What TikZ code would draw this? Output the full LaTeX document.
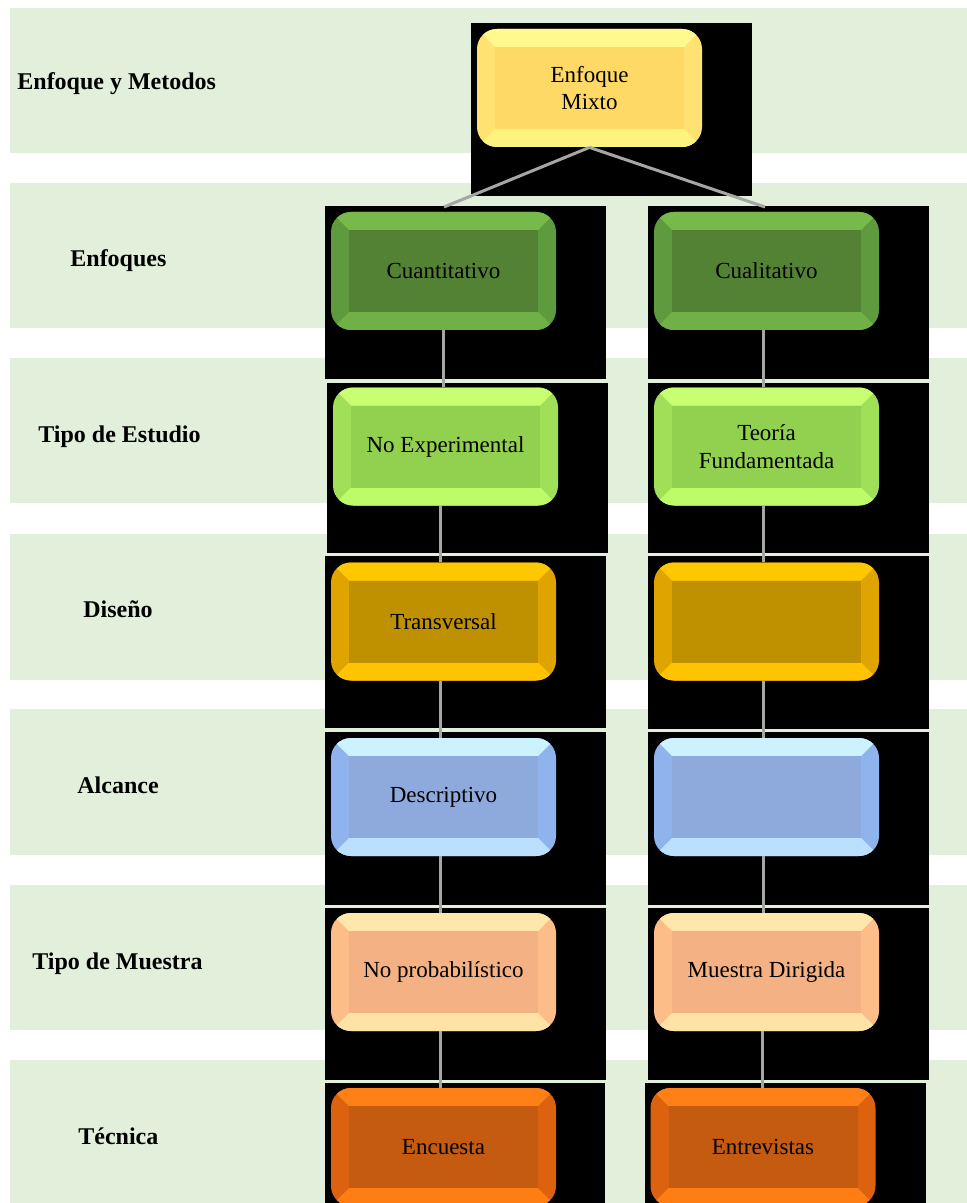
\documentclass[tikz,border=0pt]{standalone}
\usepackage{fontspec}
\setmainfont{Liberation Serif}

% band and connector colours
\definecolor{band}{HTML}{E2EFDA}
\definecolor{conn}{HTML}{A6A6A6}
% bevelled box colours: top edge, side edges, bottom edge, face
\definecolor{yTop}{HTML}{FFF98E}\definecolor{ySide}{HTML}{FFE272}\definecolor{yBot}{HTML}{FFF37F}\definecolor{yFace}{HTML}{FFD966}
\definecolor{gTop}{HTML}{77B94A}\definecolor{gSide}{HTML}{5E9A3E}\definecolor{gBot}{HTML}{70B046}\definecolor{gFace}{HTML}{548235}
\definecolor{lTop}{HTML}{C8FF72}\definecolor{lSide}{HTML}{A0E058}\definecolor{lBot}{HTML}{BDFC68}\definecolor{lFace}{HTML}{92D050}
\definecolor{oTop}{HTML}{FFC700}\definecolor{oSide}{HTML}{E0A400}\definecolor{oBot}{HTML}{FFC300}\definecolor{oFace}{HTML}{BF9000}
\definecolor{bTop}{HTML}{CCF2FF}\definecolor{bSide}{HTML}{8FB3EC}\definecolor{bBot}{HTML}{BBE0FF}\definecolor{bFace}{HTML}{8EA9DB}
\definecolor{pTop}{HTML}{FFE7AB}\definecolor{pSide}{HTML}{FDBD89}\definecolor{pBot}{HTML}{FFE2A6}\definecolor{pFace}{HTML}{F4B183}
\definecolor{rTop}{HTML}{FF8016}\definecolor{rSide}{HTML}{DD620F}\definecolor{rBot}{HTML}{FF7E14}\definecolor{rFace}{HTML}{C55A11}

\newcommand\bxfont{\fontsize{11.5}{13.75}\selectfont}
\newcommand\lblfont{\fontsize{12}{14}\selectfont\bfseries}

\tikzset{
  conn/.style={draw=conn, line width=1.5pt},
  rowlabel/.style={anchor=base west, inner sep=0pt, font=\lblfont},
  bevel/.style n args={4}{rectangle, rounded corners=10pt, minimum width=112.5pt,
    minimum height=59pt, inner sep=0pt, fill=#2, font=\bxfont, align=center,
    path picture={
      \fill[#1, sharp corners] (path picture bounding box.north west) -- (path picture bounding box.north east)
        -- ([shift={(-9pt,-9pt)}]path picture bounding box.north east)
        -- ([shift={(9pt,-9pt)}]path picture bounding box.north west) -- cycle;
      \fill[#3, sharp corners] (path picture bounding box.south west) -- (path picture bounding box.south east)
        -- ([shift={(-9pt,9pt)}]path picture bounding box.south east)
        -- ([shift={(9pt,9pt)}]path picture bounding box.south west) -- cycle;
      \fill[#4, sharp corners] ([shift={(9pt,9pt)}]path picture bounding box.south west)
        rectangle ([shift={(-9pt,-9pt)}]path picture bounding box.north east);
    }},
  yellowbox/.style={bevel={yTop}{ySide}{yBot}{yFace}},
  greenbox/.style={bevel={gTop}{gSide}{gBot}{gFace}},
  limebox/.style={bevel={lTop}{lSide}{lBot}{lFace}},
  goldbox/.style={bevel={oTop}{oSide}{oBot}{oFace}},
  bluebox/.style={bevel={bTop}{bSide}{bBot}{bFace}},
  peachbox/.style={bevel={pTop}{pSide}{pBot}{pFace}},
  orangebox/.style={bevel={rTop}{rSide}{rBot}{rFace}},
}

\begin{document}
\begin{tikzpicture}[x=0.5pt,y=-0.5pt]
\useasboundingbox (0,0) rectangle (967,1203);
\clip (0,0) rectangle (967,1203);
\fill[white] (0,0) rectangle (967,1203);

% row bands
\foreach \t/\b in {8/153,183/328,358/503,534/680,709/855,885/1030,1060/1203}
  \fill[band] (10,\t) rectangle (967,\b);

% row labels
\node[rowlabel] (l0) at (17,90)   {Enfoque y Metodos};
\node[rowlabel] (l1) at (70,267)  {Enfoques};
\node[rowlabel] (l2) at (38,442)  {Tipo de Estudio};
\node[rowlabel] (l3) at (83,617)  {Diseño};
\node[rowlabel] (l4) at (77,793)  {Alcance};
\node[rowlabel] (l5) at (32,969)  {Tipo de Muestra};
\node[rowlabel] (l6) at (78,1144) {Técnica};

% black backdrops behind the boxes
\fill[black] (471,23) rectangle (752,196);
\fill[black] (325,206) rectangle (606,379);
\fill[black] (327,383) rectangle (608,553);
\fill[black] (325,556) rectangle (606,728);
\fill[black] (325,732) rectangle (606,905);
\fill[black] (325,908) rectangle (606,1080);
\fill[black] (325,1083) rectangle (605,1203);
\fill[black] (648,206) rectangle (929,379);
\fill[black] (648,383) rectangle (929,553);
\fill[black] (648,556) rectangle (929,729);
\fill[black] (648,732) rectangle (929,905);
\fill[black] (648,908) rectangle (929,1080);
\fill[black] (645,1083) rectangle (926,1203);

% boxes
\node[yellowbox] (mix)    at (589.5,88)    {Enfoque\\Mixto};
\node[greenbox]  (cuan)   at (443.5,271)   {Cuantitativo};
\node[greenbox]  (cual)   at (766.5,271)   {Cualitativo};
\node[limebox]   (noexp)  at (445.5,446.5) {No Experimental};
\node[limebox]   (teo)    at (766.5,446.5) {Teoría\\Fundamentada};
\node[goldbox]   (trans)  at (443.5,621.5) {Transversal};
\node[goldbox]   (dis)    at (766.5,621.5) {};
\node[bluebox]   (desc)   at (443.5,797)   {Descriptivo};
\node[bluebox]   (alc)    at (766.5,797)   {};
\node[peachbox]  (noprob) at (443.5,972)   {No probabilístico};
\node[peachbox]  (mdir)   at (766.5,972)   {Muestra Dirigida};
\node[orangebox] (enc)    at (443.5,1147)  {Encuesta};
\node[orangebox] (ent)    at (763,1147)    {Entrevistas};

% connectors
\coordinate (jl) at (444,207);
\coordinate (jr) at (765,207);
\draw[conn] (mix.south) -- (jl);
\draw[conn] (mix.south) -- (jr);
\draw[conn] (cuan.south) -- (cuan.south |- noexp.north);
\draw[conn] ([xshift=-2.75pt]noexp.south) -- ([xshift=-2.75pt]noexp.south |- trans.north);
\draw[conn] ([xshift=-1.75pt]trans.south) -- ([xshift=-1.75pt]trans.south |- desc.north);
\draw[conn] ([xshift=-1.75pt]desc.south) -- ([xshift=-1.75pt]desc.south |- noprob.north);
\draw[conn] ([xshift=-1.75pt]noprob.south) -- ([xshift=-1.75pt]noprob.south |- enc.north);
\draw[conn] ([xshift=-1.75pt]cual.south) -- ([xshift=-1.75pt]cual.south |- teo.north);
\draw[conn] ([xshift=-1.75pt]teo.south) -- ([xshift=-1.75pt]teo.south |- dis.north);
\draw[conn] ([xshift=-1.75pt]dis.south) -- ([xshift=-1.75pt]dis.south |- alc.north);
\draw[conn] ([xshift=-1.75pt]alc.south) -- ([xshift=-1.75pt]alc.south |- mdir.north);
\draw[conn] ([xshift=-2.25pt]mdir.south) -- ([xshift=-2.25pt]mdir.south |- ent.north);
\end{tikzpicture}
\end{document}
